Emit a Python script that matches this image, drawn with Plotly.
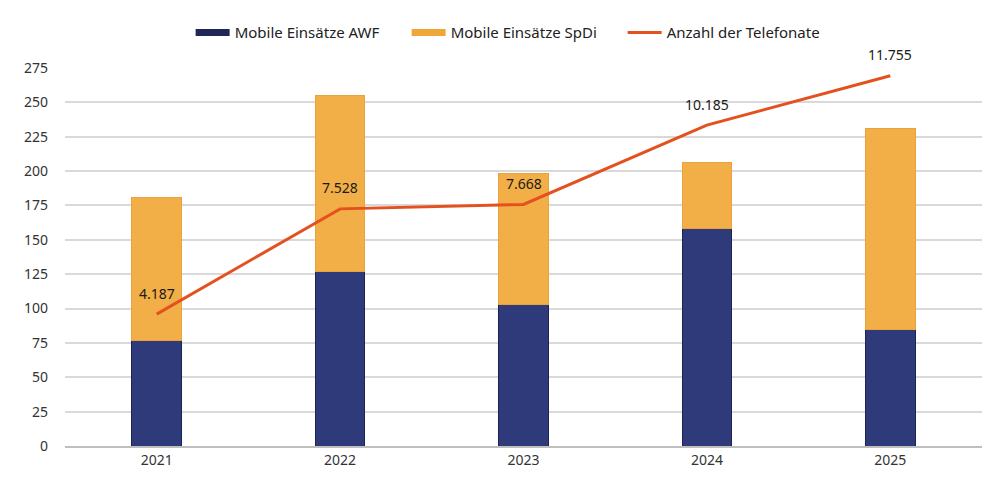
import plotly.graph_objects as go

years = ["2021", "2022", "2023", "2024", "2025"]
awf = [77, 127, 103, 158, 85]
spdi_total = [181, 255, 198, 206, 231]
spdi = [t - a for t, a in zip(spdi_total, awf)]
telefonate = [4187, 7528, 7668, 10185, 11755]
telefonate_labels = ["4.187", "7.528", "7.668", "10.185", "11.755"]
y_ticks = [0, 25, 50, 75, 100, 125, 150, 175, 200, 225, 250, 275]

xpos = list(range(len(years)))
navy = "#2E3A7A"
orange = "#F2AF47"
red = "#E4511F"

fig = go.Figure()
fig.add_trace(go.Bar(
    x=xpos, y=awf, name="Mobile Einsätze AWF", width=0.27,
    legendgroup="awf", showlegend=False,
    marker=dict(color=navy, line=dict(color="#1C2456", width=1)),
))
fig.add_trace(go.Bar(
    x=xpos, y=spdi, name="Mobile Einsätze SpDi", width=0.27,
    legendgroup="spdi", showlegend=False,
    marker=dict(color=orange, line=dict(color="#E9A33A", width=1)),
))
# legend entries drawn as wide rectangles like the reference
fig.add_trace(go.Scatter(x=[None], y=[None], mode="lines", name="Mobile Einsätze AWF",
                         legendgroup="awf", line=dict(color="#1E2758", width=7)))
fig.add_trace(go.Scatter(x=[None], y=[None], mode="lines", name="Mobile Einsätze SpDi",
                         legendgroup="spdi", line=dict(color="#F0A73A", width=7)))
fig.add_trace(go.Scatter(
    x=xpos, y=telefonate, name="Anzahl der Telefonate", yaxis="y2",
    mode="lines", line=dict(color=red, width=3),
))

for x, y, t in zip(xpos, telefonate, telefonate_labels):
    fig.add_annotation(x=x, y=y, xref="x", yref="y2", text=t, showarrow=False,
                       yshift=21, font=dict(size=14, color="#1a1a1a"))

fig.update_layout(
    width=1004, height=477,
    barmode="stack",
    plot_bgcolor="white", paper_bgcolor="white",
    margin=dict(l=57, r=30, t=60, b=39, autoexpand=False),
    font=dict(family="Noto Sans, Open Sans, sans-serif", size=14, color="#333333"),
    legend=dict(orientation="h", x=0.137, xanchor="left", y=1.093, yanchor="middle",
                font=dict(size=15, color="#222222"), entrywidth=167,
                traceorder="normal", itemwidth=34),
    xaxis=dict(range=[-0.5, len(years) - 0.5], tickvals=xpos, ticktext=years,
               showline=True, linecolor="#BFBFBF", linewidth=1.5, ticks="",
               showgrid=False, zeroline=False, tickfont=dict(size=14, color="#333333")),
    yaxis=dict(range=[0, 275], tickvals=y_ticks, showgrid=True, gridcolor="#D9D9D9",
               gridwidth=1.5, zeroline=False, ticks="", tickfont=dict(size=14, color="#333333"),
               ticklabelstandoff=16),
    yaxis2=dict(range=[0, 12000], overlaying="y", side="right", visible=False),
    showlegend=True,
)

fig.write_html("out.html")
